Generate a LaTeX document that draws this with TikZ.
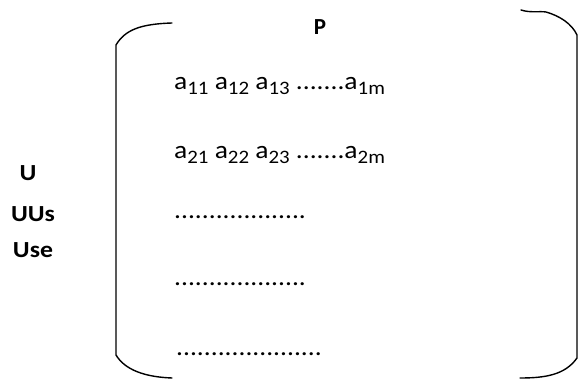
\documentclass[tikz,border=0pt]{standalone}
\usepackage{fontspec}
\setmainfont{Carlito}
\newcommand{\ix}[1]{\raisebox{-5pt}{\fontsize{19}{20}\selectfont #1}}
\newcommand{\wide}[1]{\scalebox{1.1}[1]{#1}}
\begin{document}
\begin{tikzpicture}[x=1pt,y=-1pt,
  brk/.style={line width=1.4pt, line join=round, line cap=round},
  lbl/.style={font=\fontsize{23}{26}\selectfont\bfseries, inner sep=0pt},
  row/.style={font=\fontsize{25}{28}\selectfont, anchor=west, inner sep=0pt}]
\useasboundingbox (0,0) rectangle (580,379);
% left bracket
\draw[brk] (172,23) .. controls (140,24) and (125,30) .. (116,45)
  -- (116,355) .. controls (125,370) and (145,377) .. (172,378);
% right bracket
\draw[brk] (521,10) .. controls (530,13) and (540,11) .. (546,12)
  .. controls (560,16) and (572,24) .. (577,35)
  -- (577,358) .. controls (565,375) and (545,378) .. (520,378);
% title
\node[lbl] (p) at (320,27) {P};
% matrix rows
\node[row] (r1) at (174,86) {\wide{a\ix{11} a\ix{12} a\ix{13} .......a\ix{1m}}};
\node[row] (r2) at (174,155) {\wide{a\ix{21} a\ix{22} a\ix{23} .......a\ix{2m}}};
\node[row] (r3) at (174,217) {\wide{...................}};
\node[row] (r4) at (174,284) {\wide{...................}};
\node[row] (r5) at (176,354) {\wide{.....................}};
% side labels
\node[lbl] (u1) at (28,173) {\scalebox{1.12}[1]{U}};
\node[lbl] (u2) at (33,214) {\scalebox{1.12}[1]{UUs}};
\node[lbl] (u3) at (33,250) {\scalebox{1.12}[1]{Use}};
\end{tikzpicture}
\end{document}
